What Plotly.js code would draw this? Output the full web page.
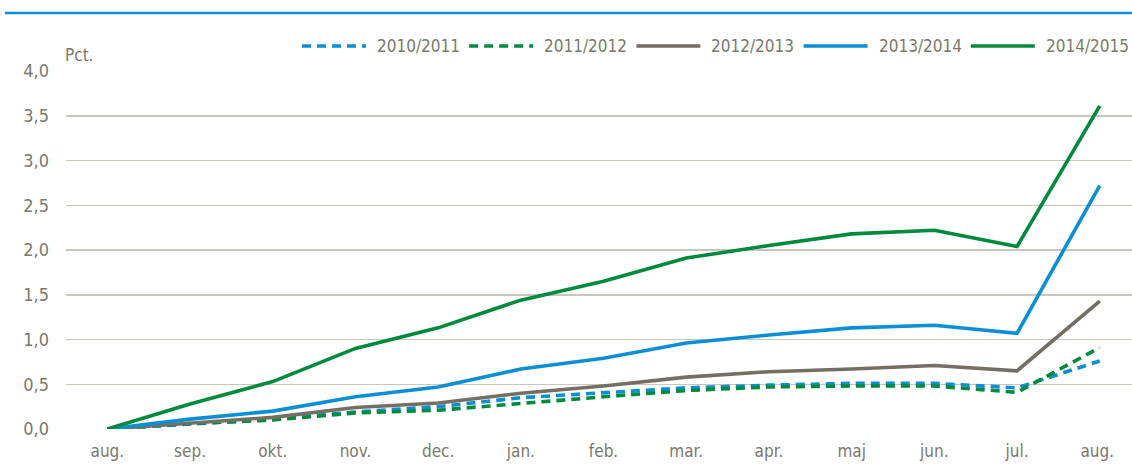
<!DOCTYPE html>
<html>
<head>
<meta charset="utf-8">
<script src="https://cdn.plot.ly/plotly-3.0.1.min.js"></script>
<style>html,body{margin:0;padding:0;background:#fff;}#chart{width:1132px;height:470px;}</style>
</head>
<body>
<div id="chart"></div>
<script>
const months = ["aug.","sep.","okt.","nov.","dec.","jan.","feb.","mar.","apr.","maj","jun.","jul.","aug. "];
const s2010_2011 = [0, 0.06, 0.11, 0.19, 0.25, 0.35, 0.41, 0.46, 0.49, 0.51, 0.51, 0.46, 0.76];
const s2011_2012 = [0, 0.06, 0.10, 0.18, 0.21, 0.29, 0.36, 0.43, 0.47, 0.48, 0.48, 0.41, 0.91];
const s2012_2013 = [0, 0.07, 0.13, 0.24, 0.29, 0.40, 0.48, 0.58, 0.64, 0.67, 0.71, 0.65, 1.43];
const s2013_2014 = [0, 0.11, 0.20, 0.36, 0.47, 0.67, 0.79, 0.96, 1.05, 1.13, 1.16, 1.07, 2.72];
const s2014_2015 = [0, 0.28, 0.53, 0.90, 1.13, 1.44, 1.65, 1.91, 2.05, 2.18, 2.22, 2.04, 3.61];
const seriesNames = ["2010/2011","2011/2012","2012/2013","2013/2014","2014/2015"];

const BLUE = "#0a8fd5", GREEN = "#008a3c", GREY = "#746f62";
const FONT = "'Liberation Sans Narrow', 'Arial Narrow', 'DejaVu Sans Condensed', sans-serif";
const TXT = "#7b786b";
const DASH = "9px,6px";

const seriesVals = [s2010_2011, s2011_2012, s2012_2013, s2013_2014, s2014_2015];
const seriesColors = [BLUE, GREEN, GREY, BLUE, GREEN];
const seriesDash = [DASH, DASH, "solid", "solid", "solid"];

const data = seriesVals.map((v, i) => ({
  x: months, y: v, name: seriesNames[i], type: "scatter", mode: "lines",
  line: {color: seriesColors[i], width: 3.6, dash: seriesDash[i]}
}));

// plot-area geometry in px (for converting to paper coordinates)
const L = 66, W = 1132 - 66, T = 71, H = 470 - 71 - 41;
const px2x = p => (p - L) / W;
const py2y = p => 1 + (T - p) / H;

const shapes = [{type: "line", xref: "paper", yref: "paper", x0: px2x(5), x1: px2x(1140),
                 y0: py2y(13), y1: py2y(13), line: {color: BLUE, width: 2.5}}];
const annotations = [{text: "Pct.", xref: "paper", yref: "paper", x: px2x(63), y: py2y(55),
                      xanchor: "left", yanchor: "middle", showarrow: false,
                      font: {family: FONT, size: 17, color: TXT}}];
// custom legend with long line samples
seriesNames.forEach((n, i) => {
  const x0 = 302 + 167.2 * i;
  shapes.push({type: "line", xref: "paper", yref: "paper", x0: px2x(x0), x1: px2x(x0 + 64),
               y0: py2y(46), y1: py2y(46),
               line: {color: seriesColors[i], width: 3.6, dash: seriesDash[i]}});
  annotations.push({text: n, xref: "paper", yref: "paper", x: px2x(x0 + 73), y: py2y(46),
                    xanchor: "left", yanchor: "middle", showarrow: false,
                    font: {family: FONT, size: 17, color: TXT}});
});

const layout = {
  width: 1132, height: 470,
  margin: {l: L, r: 0, t: T, b: 41},
  paper_bgcolor: "#fff", plot_bgcolor: "#fff",
  separators: ",.",
  font: {family: FONT, size: 17, color: TXT},
  showlegend: false,
  xaxis: {type: "category", range: [-0.5, 12.39], showgrid: false, zeroline: false,
          showline: false, ticks: "", ticklabelstandoff: 10,
          tickfont: {family: FONT, size: 17, color: TXT}, fixedrange: true},
  yaxis: {range: [0, 4], dtick: 0.5, tick0: 0, tickformat: ".1f",
          showgrid: true, gridcolor: "#c9c6bb", gridwidth: 1.5, zeroline: false,
          showline: false, ticks: "", ticklabelstandoff: 16,
          tickfont: {family: FONT, size: 18, color: TXT}, fixedrange: true},
  shapes: shapes,
  annotations: annotations
};
Plotly.newPlot("chart", data, layout, {displayModeBar: false, staticPlot: true});
</script>
</body>
</html>
